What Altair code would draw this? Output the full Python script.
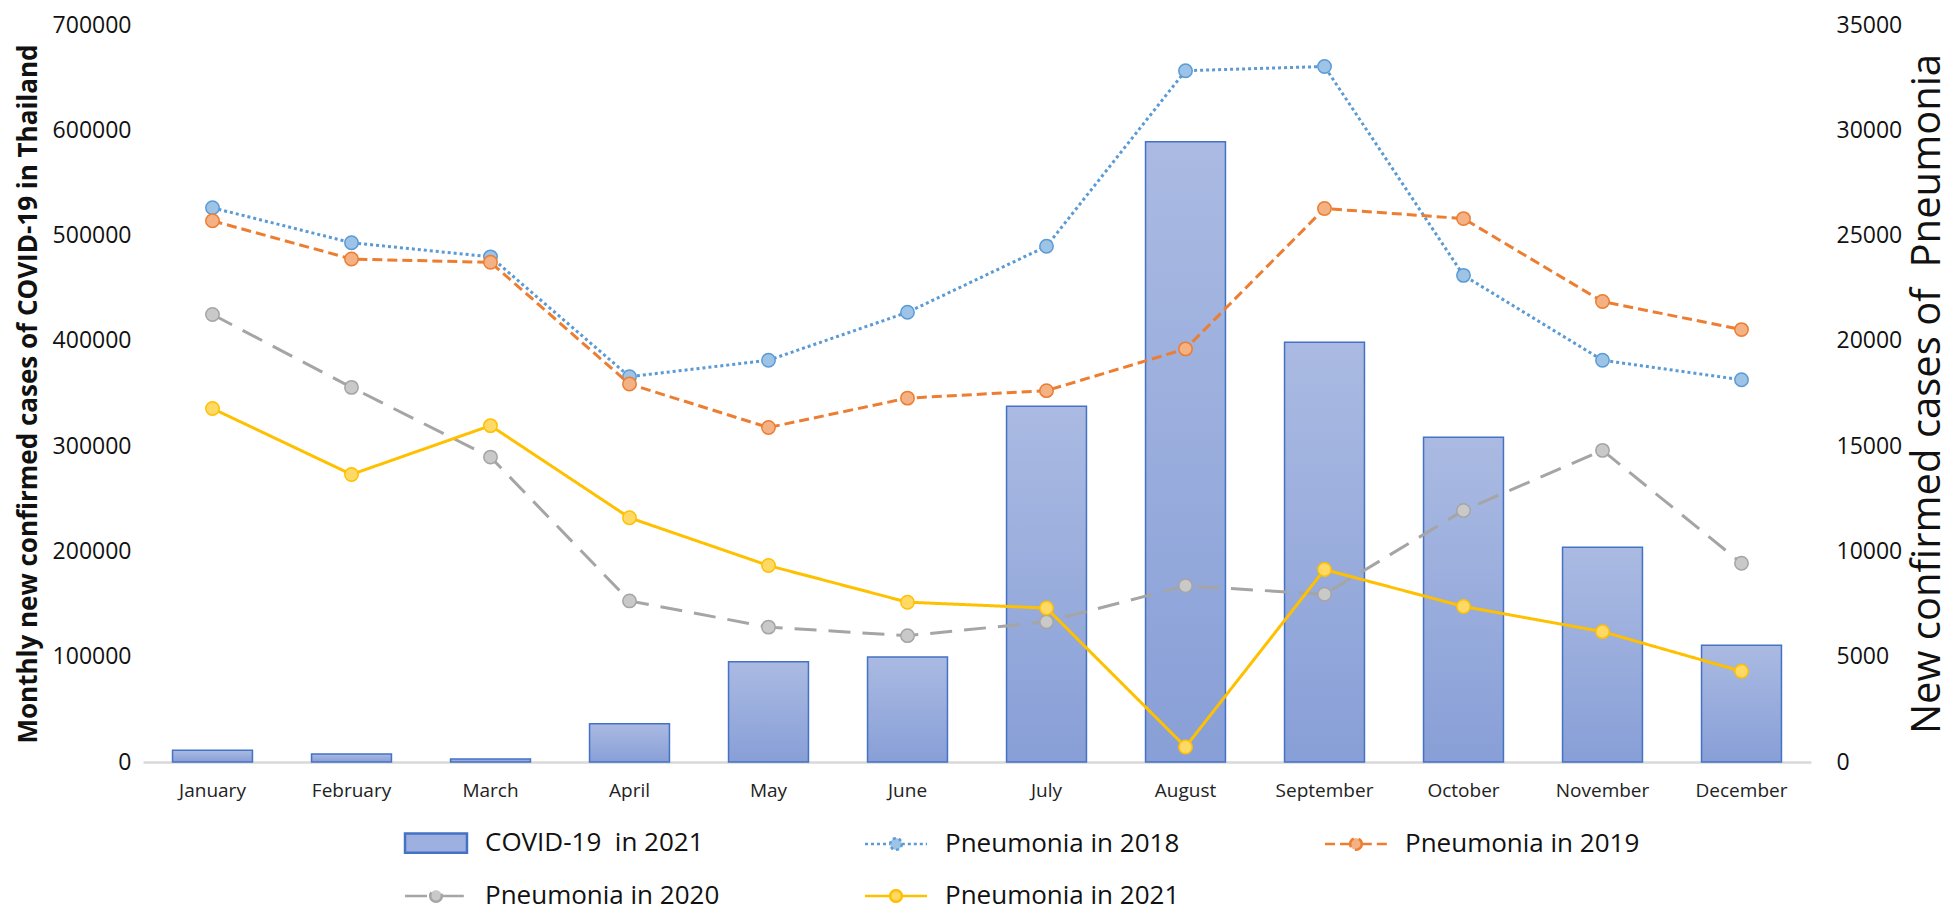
import altair as alt
import pandas as pd

months = ["January", "February", "March", "April", "May", "June", "July",
          "August", "September", "October", "November", "December"]

covid_2021 = [11200, 7500, 2800, 36400, 95200, 99800, 337800, 589000, 398600, 308400, 204000, 111000]
pneu_2018 = [26320, 24660, 23990, 18300, 19080, 21355, 24490, 32830, 33030, 23110, 19080, 18150]
pneu_2019 = [25700, 23885, 23730, 17950, 15885, 17280, 17635, 19620, 26285, 25806, 21868, 20535]
pneu_2020 = [21250, 17790, 14480, 7650, 6405, 6000, 6655, 8370, 7965, 11944, 14800, 9440]
pneu_2021 = [16785, 13655, 15975, 11600, 9330, 7590, 7310, 715, 9140, 7387, 6190, 4308]

series_names = ["COVID-19\u00a0 in 2021", "Pneumonia in 2018", "Pneumonia in 2019",
                "Pneumonia in 2020", "Pneumonia in 2021"]
left_ticks = [0, 100000, 200000, 300000, 400000, 500000, 600000, 700000]
right_ticks = [0, 5000, 10000, 15000, 20000, 25000, 30000, 35000]

left_title = "Monthly new confirmed cases of COVID-19 in Thailand"
right_title = "New confirmed cases of\u00a0 Pneumonia"

FONT = "Open Sans"

line_colors = ["#4472c4", "#5b9bd5", "#ed7d31", "#a5a5a5", "#ffc000"]
fill_colors = ["#9eb0df", "#9dc3e6", "#f4b183", "#c9c9c9", "#ffd966"]
dashes = [[1, 0], [3, 3], [10, 5], [22, 12], [1, 0]]

bar_df = pd.DataFrame({"month": months, "covid": covid_2021})
pneu_lists = [pneu_2018, pneu_2019, pneu_2020, pneu_2021]
rows = []
for name, vals in zip(series_names[1:], pneu_lists):
    for m, v in zip(months, vals):
        rows.append({"month": m, "series": name, "pneu": v})
pneu_df = pd.DataFrame(rows)
legend_df = pd.DataFrame({"series": series_names, "month": months[0],
                          "pneu": [float("nan")] * len(series_names)})

x_enc = alt.X(
    "month:N", sort=months,
    scale=alt.Scale(domain=months, paddingInner=0.425, paddingOuter=0.2125),
    axis=alt.Axis(title=None, labelAngle=0, ticks=False, grid=False,
                  domainColor="#d9d9d9", domainWidth=2.5,
                  labelFont=FONT, labelFontSize=19, labelPadding=19,
                  labelColor="#222222"),
)

y_left = alt.Y(
    "covid:Q",
    scale=alt.Scale(domain=[0, 700000], nice=False),
    axis=alt.Axis(title=left_title, values=left_ticks, format="d", domain=False,
                  ticks=False, grid=False, labelFont=FONT, labelFontSize=23,
                  labelPadding=12, labelColor="#111111",
                  titleFont=FONT, titleFontSize=26, titleFontWeight="bold",
                  titleColor="#111111", titlePadding=11),
)

y_right = alt.Y(
    "pneu:Q",
    scale=alt.Scale(domain=[0, 35000], nice=False),
    axis=alt.Axis(title=right_title, orient="right", values=right_ticks, format="d",
                  domain=False, ticks=False, grid=False, labelFont=FONT,
                  labelFontSize=23, labelPadding=25, labelColor="#111111",
                  titleFont=FONT, titleFontSize=40, titleFontWeight="normal",
                  titleColor="#111111", titleAngle=270, titleBaseline="top",
                  titleAlign="center", titlePadding=6),
)

bar_fill = alt.Gradient(
    gradient="linear",
    stops=[alt.GradientStop(color="#aabae2", offset=0),
           alt.GradientStop(color="#889fd7", offset=1)],
    x1=0, x2=0, y1=0, y2=1,
)

bars = alt.Chart(bar_df).mark_bar(
    fill=bar_fill, stroke="#4472c4", strokeWidth=1.5
).encode(x=x_enc, y=y_left)

layers = []
for i, name in enumerate(series_names[1:], start=1):
    base = alt.Chart(pneu_df).transform_filter(alt.datum.series == name)
    ln = base.mark_line(
        stroke=line_colors[i], strokeWidth=3, strokeDash=dashes[i]
    ).encode(x=x_enc, y=y_right)
    pt = base.mark_point(
        shape="circle", filled=True, fill=fill_colors[i], stroke=line_colors[i],
        strokeWidth=1.5, size=180, opacity=1
    ).encode(x=x_enc, y=y_right)
    layers += [ln, pt]

rect_path = "M-1.6,-0.5 L1.6,-0.5 L1.6,0.5 L-1.6,0.5 Z"
lc_path = ("M-1.6,0 L-0.3,0 M0.3,0 L1.6,0 "
           "M0.3,0 A0.3,0.3 0 1 1 -0.3,0 A0.3,0.3 0 1 1 0.3,0 Z")
shapes = [rect_path, lc_path, lc_path, lc_path, lc_path]

leg = alt.Legend(
    title=None, orient="none", legendX=272, legendY=797, columns=3,
    direction="horizontal", gridAlign="all", columnPadding=140, rowPadding=17,
    padding=0, symbolSize=1500, symbolStrokeWidth=2.5, labelFont=FONT,
    labelFontSize=26, labelColor="#111111", labelOffset=28, labelLimit=500,
)

legend_layer = alt.Chart(legend_df).mark_point(filled=True, opacity=1).encode(
    x=x_enc, y=y_right,
    fill=alt.Fill("series:N", scale=alt.Scale(domain=series_names, range=fill_colors), legend=leg),
    stroke=alt.Stroke("series:N", scale=alt.Scale(domain=series_names, range=line_colors), legend=leg),
    shape=alt.Shape("series:N", scale=alt.Scale(domain=series_names, range=shapes), legend=leg),
    strokeDash=alt.StrokeDash("series:N", scale=alt.Scale(domain=series_names, range=dashes), legend=leg),
)

lines = alt.layer(*layers, legend_layer)

chart = alt.layer(bars, lines).resolve_scale(y="independent").properties(
    width=1668, height=737,
    padding={"left": 135, "top": 17, "right": 141, "bottom": 150},
    autosize=alt.AutoSizeParams(type="none"),
).configure_view(stroke=None)

chart.save("out.html", embed_options={"renderer": "svg", "actions": False})
